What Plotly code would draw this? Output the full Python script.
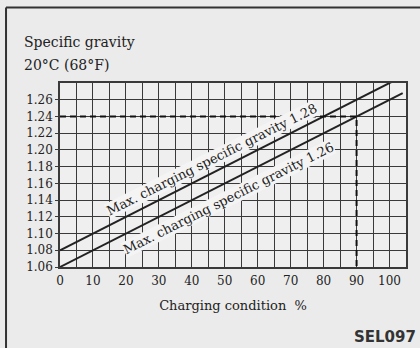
import plotly.graph_objects as go

# ---- data ----
charge_pct = [0, 104]
sg_max_128 = [1.08, 1.288]
sg_max_126 = [1.06, 1.268]
ref_pct = [0, 90, 90]
ref_sg = [1.24, 1.24, 1.06]
x_ticks = [0, 10, 20, 30, 40, 50, 60, 70, 80, 90, 100]
y_ticks = [1.06, 1.08, 1.10, 1.12, 1.14, 1.16, 1.18, 1.20, 1.22, 1.24, 1.26]
label_128 = "Max. charging specific gravity 1.28"
label_126 = "Max. charging specific gravity 1.26"

SERIF = "DejaVu Serif, Liberation Serif, serif"
INK = "#222222"
GRID = "#3a3a3a"

fig = go.Figure()
fig.add_trace(go.Scatter(x=charge_pct, y=sg_max_128, mode="lines",
                         line=dict(color=INK, width=2), showlegend=False))
fig.add_trace(go.Scatter(x=charge_pct, y=sg_max_126, mode="lines",
                         line=dict(color=INK, width=2), showlegend=False))
fig.add_trace(go.Scatter(x=ref_pct, y=ref_sg, mode="lines",
                         line=dict(color="#111111", width=2, dash="6px,4px"),
                         showlegend=False))

fig.add_annotation(x=46, y=1.189, text=label_128, showarrow=False, textangle=-26.6,
                   font=dict(family=SERIF, size=13, color=INK),
                   bgcolor="#f4f4f4", borderpad=0)
fig.add_annotation(x=51, y=1.142, text=label_126, showarrow=False, textangle=-26.6,
                   font=dict(family=SERIF, size=13, color=INK),
                   bgcolor="#f4f4f4", borderpad=0)

fig.add_annotation(xref="paper", yref="paper", x=-0.11, y=1.222, xanchor="left",
                   yanchor="middle", text="Specific gravity", showarrow=False,
                   font=dict(family=SERIF, size=14, color=INK))
fig.add_annotation(xref="paper", yref="paper", x=-0.11, y=1.10, xanchor="left",
                   yanchor="middle", text="20°C (68°F)", showarrow=False,
                   font=dict(family=SERIF, size=14, color=INK))
fig.add_annotation(xref="paper", yref="paper", x=1.035, y=-0.38, xanchor="right",
                   yanchor="middle", text="<b>SEL097</b>", showarrow=False,
                   font=dict(family="DejaVu Sans, sans-serif", size=15, color="#333333"))

# scan frame
fig.add_shape(type="line", xref="paper", yref="paper", x0=-0.156, x1=-0.156, y0=1.41, y1=-0.45,
              line=dict(color="#333333", width=2))
fig.add_shape(type="line", xref="paper", yref="paper", x0=-0.156, x1=1.05, y0=1.41, y1=1.41,
              line=dict(color="#333333", width=2))

fig.update_layout(
    width=420, height=348,
    margin=dict(l=60, r=14, t=83, b=81),
    paper_bgcolor="#ebebeb", plot_bgcolor="#efefef",
    font=dict(family=SERIF, size=12, color=INK),
    xaxis=dict(range=[0, 105], tickvals=x_ticks, showgrid=True, gridcolor=GRID, gridwidth=1.4,
               minor=dict(dtick=5, tick0=0, showgrid=True, gridcolor=GRID, gridwidth=1.4),
               zeroline=False, showline=True, linecolor=GRID, linewidth=1.5, mirror=True,
               ticks="", ticklabelstandoff=2,
               title=dict(text="Charging condition  %", standoff=14,
                          font=dict(family=SERIF, size=13))),
    yaxis=dict(range=[1.06, 1.28], tickvals=y_ticks, tickformat=".2f",
               showgrid=True, gridcolor=GRID, gridwidth=1.4,
               zeroline=False, showline=True, linecolor=GRID, linewidth=1.5, mirror=True,
               ticks="outside", ticklen=3, tickcolor=GRID),
    showlegend=False,
)

fig.write_html("out.html", config={"displayModeBar": False},
               post_script="document.body.style.margin='0px';document.body.style.background='#ebebeb';")
